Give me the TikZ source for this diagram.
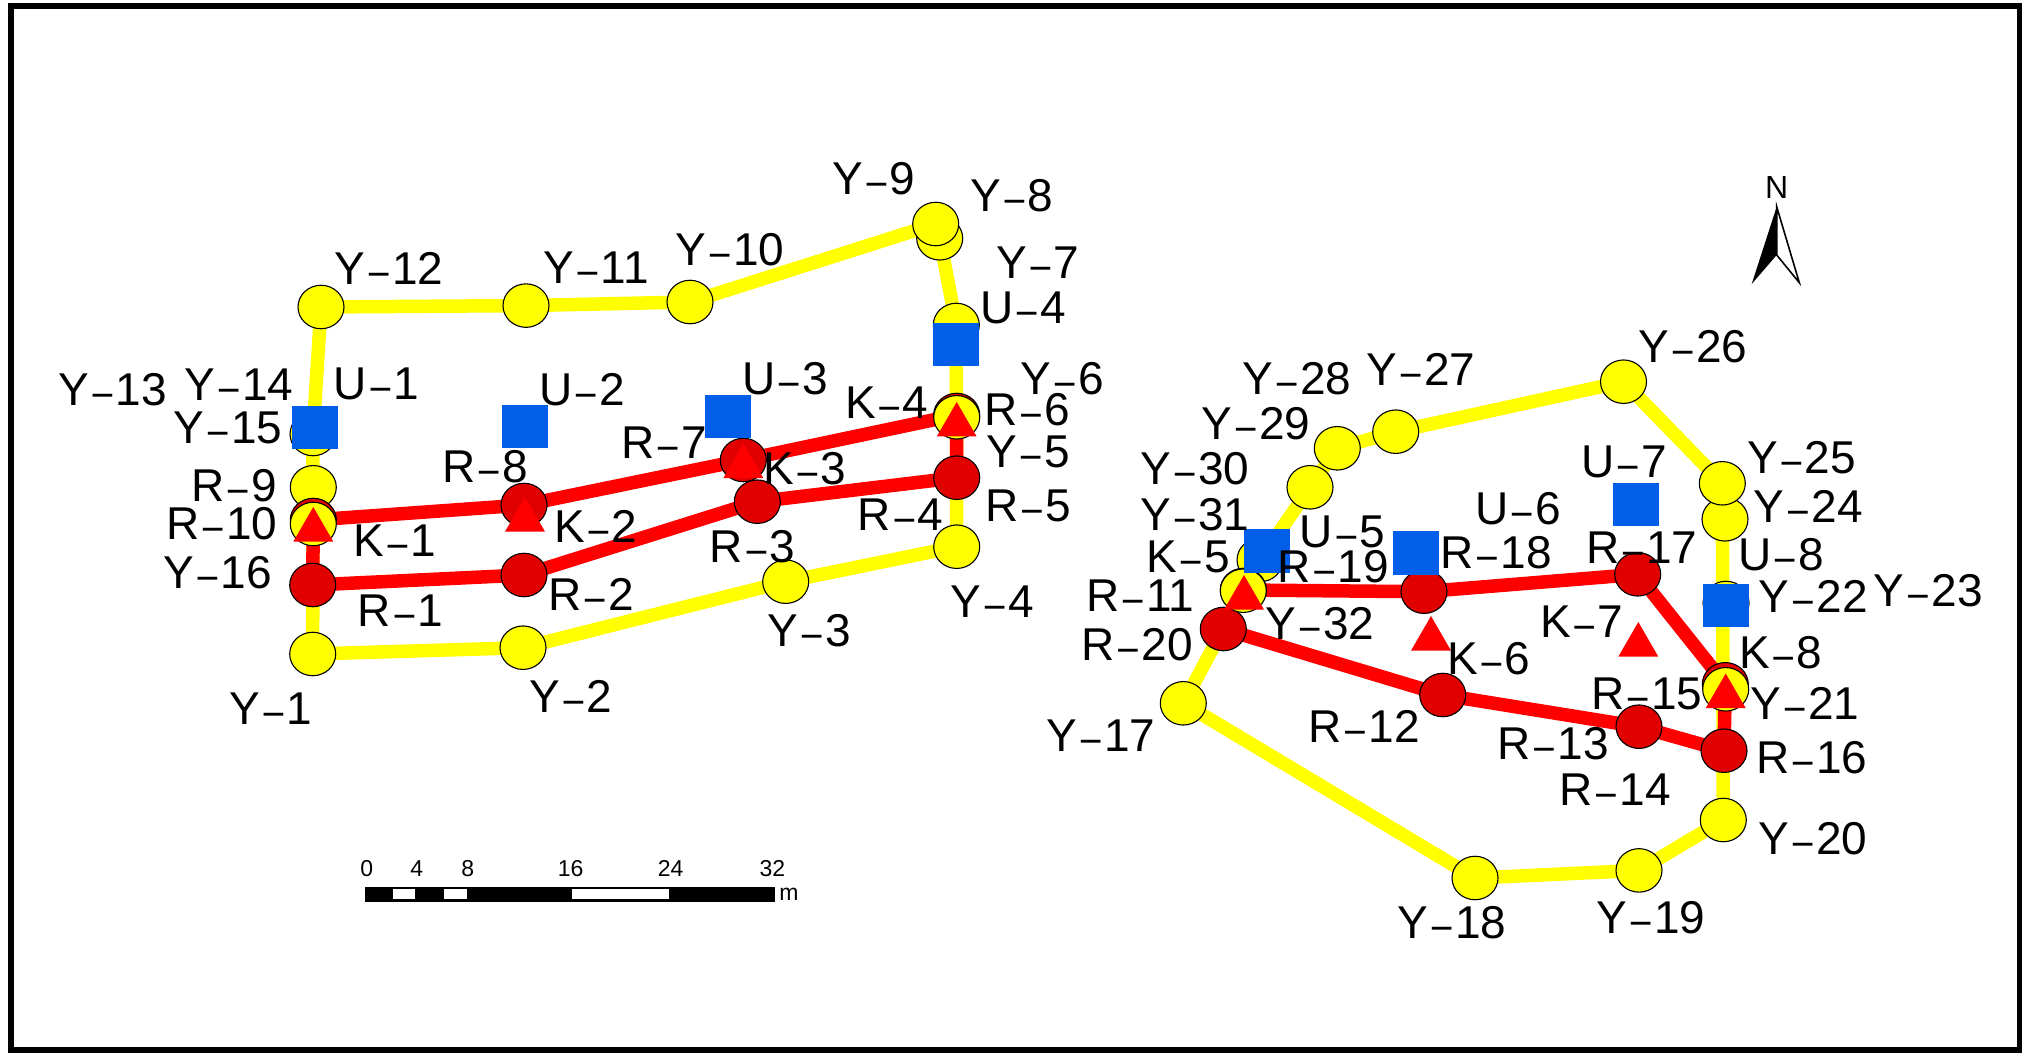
\documentclass[tikz,border=0pt]{standalone}
\usepackage{fontspec}
\setmainfont{Liberation Sans}
\usetikzlibrary{shapes.geometric,backgrounds}
\definecolor{ylw}{RGB}{255,255,0}
\definecolor{rline}{RGB}{255,0,0}
\definecolor{rnode}{RGB}{224,0,0}
\definecolor{blu}{RGB}{0,94,232}
\newcommand{\hy}{\scalebox{1.75}[0.8]{-}}
\tikzset{
  yc/.style={ellipse,draw=black,line width=1.1pt,fill=ylw,minimum width=46pt,minimum height=43.5pt,inner sep=0pt,outer sep=0pt},
  rc/.style={ellipse,draw=black,line width=1.1pt,fill=rnode,minimum width=46pt,minimum height=43.5pt,inner sep=0pt,outer sep=0pt},
  bs/.style={rectangle,fill=blu,minimum width=46pt,minimum height=43.5pt,inner sep=0pt,outer sep=0pt},
  tr/.style={regular polygon,regular polygon sides=3,fill=rline,minimum size=46pt,inner sep=0pt,outer sep=0pt},
  yl/.style={draw=ylw,line width=13.5pt,line join=round},
  rl/.style={draw=rline,line width=13.5pt,line join=round},
  lb/.style={inner sep=0pt,outer sep=0pt,text height=33pt,text depth=0pt,font=\fontsize{46}{46}\selectfont},
  sc/.style={inner sep=0pt,outer sep=0pt,text height=15pt,text depth=0pt,font=\fontsize{23}{23}\selectfont}
}
\begin{document}
\begin{tikzpicture}[x=1pt,y=-1pt]
\useasboundingbox (0,0) rectangle (2022,1056);
% ---- yellow nodes, left group
\node[yc] (y1) at (312.7,654) {};
\node[yc] (y2) at (523,647.7) {};
\node[yc] (y3) at (785.7,581.7) {};
\node[yc] (y4) at (956.7,546.7) {};
\node[yc] (y6) at (956.3,325) {};
\node[yc] (y7) at (939.7,238.3) {};
\node[yc] (y8) at (935.7,224) {};
\node[yc] (y10) at (690,302) {};
\node[yc] (y11) at (526,305.6) {};
\node[yc] (y12) at (321,307) {};
\node[yc] (y15) at (313,434) {};
\node[yc] (y14) at (313.3,487.3) {};
% ---- red nodes, left group
\node[rc] (r1) at (312.7,585) {};
\node[rc] (r2) at (524,575) {};
\node[rc] (r3) at (757.3,501.7) {};
\node[rc] (r5) at (956.7,477.7) {};
\node[rc] (r6) at (956.7,415) {};
\node[rc] (r7) at (743.3,460) {};
\node[rc] (r8) at (524,505) {};
\node[rc] (r9) at (313.3,520) {};
\node[yc] (y5) at (956.7,417.3) {};
\node[yc] (y16) at (313.3,524) {};
% ---- yellow nodes, right group
\node[yc] (y17) at (1183.3,703.3) {};
\node[yc] (y18) at (1475,878) {};
\node[yc] (y19) at (1639,870.4) {};
\node[yc] (y20) at (1723.3,820) {};
\node[yc] (y22) at (1726,603) {};
\node[yc] (y24) at (1725,519.3) {};
\node[yc] (y25) at (1722.3,483.3) {};
\node[yc] (y26) at (1623.5,381.7) {};
\node[yc] (y27) at (1395.7,431.7) {};
\node[yc] (y28) at (1337.3,448.3) {};
\node[yc] (y30) at (1310,487.3) {};
\node[yc] (y31) at (1260,560) {};
% ---- red nodes, right group
\node[rc] (r11) at (1243.3,590) {};
\node[rc] (r18) at (1424,591.7) {};
\node[rc] (r17) at (1637.7,574.3) {};
\node[rc] (r15) at (1725.3,684.3) {};
\node[rc] (r16) at (1724,750.7) {};
\node[rc] (r13) at (1639,726.7) {};
\node[rc] (r12) at (1442.7,695) {};
\node[rc] (r20) at (1223.3,629) {};
\node[yc] (y21) at (1725.7,689.3) {};
\node[yc] (y32) at (1243.3,590.7) {};
\begin{scope}[on background layer]
  \draw[black,line width=6pt] (11,6) rectangle (2020,1050);
  \draw[yl] (y1.center) -- (y2.center) -- (y3.center) -- (y4.center) -- (y6.center) -- (y7.center) -- (y8.center) -- (y10.center) -- (y11.center) -- (y12.center) -- (y15.center) -- (y1.center);
  \draw[yl] (y17.center) -- (y18.center) -- (y19.center) -- (y20.center) -- (y25.center) -- (y26.center) -- (y27.center) -- (y28.center) -- (y30.center) -- (y31.center) -- (y17.center);
  \draw[rl] (r1.center) -- (r2.center) -- (r3.center) -- (r5.center) -- (r6.center) -- (r7.center) -- (r8.center) -- (r9.center) -- cycle;
  \draw[rl] (r11.center) -- (r18.center) -- (r17.center) -- (r15.center) -- (r16.center) -- (r13.center) -- (r12.center) -- (r20.center);
\end{scope}
% ---- triangles
\node[tr] (k1) at (313.3,530) {};
\node[tr] (k2) at (525,520) {};
\node[tr] (k3) at (743.3,466.5) {};
\node[tr] (k4) at (956.7,425) {};
\node[tr] (k5) at (1244,598) {};
\node[tr] (k6) at (1431,639) {};
\node[tr] (k7) at (1638.3,645) {};
\node[tr] (k8) at (1725.7,696.5) {};
% ---- squares
\node[bs] (u1) at (314.5,427.7) {};
\node[bs] (u2) at (525,426.7) {};
\node[bs] (u3) at (728.3,416.7) {};
\node[bs] (u4) at (956.3,344.7) {};
\node[bs] (u5) at (1267.2,550.8) {};
\node[bs] (u6) at (1416.2,553) {};
\node[bs] (u7) at (1635.8,504.7) {};
\node[bs] (u8) at (1726,605.7) {};
% ---- labels
\foreach \x/\y/\t [count=\i] in {
 112.7/389/Y\hy13, 239/384/Y\hy14, 376.7/382.7/U\hy1, 228/427.3/Y\hy15, 234/485/R\hy9,
 221.7/523.3/R\hy10, 395/540/K\hy1, 217.7/571.7/Y\hy16, 400.7/610/R\hy1, 485/465.7/R\hy8,
 785/378.3/U\hy3, 886.7/401.7/K\hy4, 1062.3/378/Y\hy6, 1027.3/409/R\hy6, 1028.3/450.7/Y\hy5,
 1028.3/505/R\hy5, 805/467.7/K\hy3, 900.7/514.3/R\hy4, 752.7/546/R\hy3, 992.3/600.7/Y\hy4,
 809.3/630/Y\hy3, 1624/460.7/U\hy7, 1801.7/457.3/Y\hy25, 1808.3/506/Y\hy24, 1781/554/U\hy8,
 1813.3/596/Y\hy22, 1928.3/590/Y\hy23, 1581.7/621/K\hy7, 1780.7/651.7/K\hy8, 1641.7/547.3/R\hy17,
 1646.7/692.7/R\hy15, 1805/703.3/Y\hy21, 1811.7/756.7/R\hy16, 1615/789.3/R\hy14, 1553/743.3/R\hy13,
 1813/838/Y\hy20, 1195/468.3/Y\hy30, 1195/514/Y\hy31, 1188.3/555.7/K\hy5, 1342.7/530.7/U\hy5,
 1333.3/565.7/R\hy19, 1140/595/R\hy11, 1137/644/R\hy20, 1320/622.7/Y\hy32, 1101/735/Y\hy17,
 1364/726/R\hy12, 1489/658/K\hy6, 1496/552/R\hy18, 1518/508/U\hy6, 1256/423/Y\hy29,
 1297/378/Y\hy28, 1421/369/Y\hy27, 1693/346/Y\hy26, 1452/922/Y\hy18, 1651/917/Y\hy19,
 389/268/Y\hy12, 596/267/Y\hy11, 730/249/Y\hy10, 874/178/Y\hy9, 1012/195/Y\hy8,
 1038/262/Y\hy7, 1023/307/U\hy4, 582/389/U\hy2, 664/442/R\hy7, 596/526/K\hy2,
 591/594/R\hy2, 571/696/Y\hy2, 271/708/Y\hy1}
 { \node[lb] (lab\i) at (\x,\y) {\t}; }
% ---- scale bar
\fill[black] (365,886.7) rectangle (775,901.7);
\fill[white] (393.3,889.3) rectangle (415.3,898.7);
\fill[white] (444.3,889.3) rectangle (466.7,898.7);
\fill[white] (571.7,889.3) rectangle (669.3,898.7);
\node[sc] (s0) at (366.7,869) {0};
\node[sc] (s4) at (416.7,869) {4};
\node[sc] (s8) at (467.7,869) {8};
\node[sc] (s16) at (570.7,869) {16};
\node[sc] (s24) at (670.7,869) {24};
\node[sc] (s32) at (772.3,869) {32};
\node[inner sep=0pt,font=\fontsize{23}{23}\selectfont] (sm) at (789,894) {m};
% ---- north arrow
\node[inner sep=0pt,font=\fontsize{32}{32}\selectfont] (north) at (1776.7,187.7) {N};
\fill[black] (1776.7,206.7) -- (1751.7,284) -- (1776.7,255) -- cycle;
\draw[black,line width=1.6pt,line join=miter,fill=white] (1776.7,206.7) -- (1799.3,282.7) -- (1776.7,255) -- cycle;
\end{tikzpicture}
\end{document}
